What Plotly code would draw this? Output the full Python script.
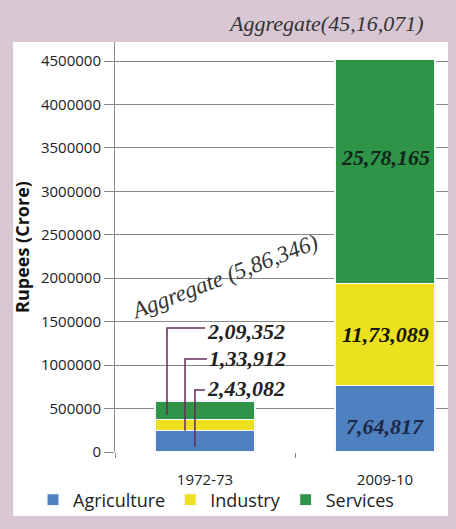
import plotly.graph_objects as go

# ---- data ----
years = ["1972-73", "2009-10"]
agriculture = [243082, 764817]
industry = [133912, 1173089]
services = [209352, 2578165]
y_ticks = [0, 500000, 1000000, 1500000, 2000000, 2500000, 3000000, 3500000, 4000000, 4500000]

sectors = ["Agriculture", "Industry", "Services"]
colors = ["#4f80bf", "#ebe11e", "#2f9447"]
text_colors = ["#1c2848", "#151505", "#10261a"]
label_shift = [-8, 0, 14]   # vertical nudge of in-bar labels (px)


def fmt_indian(n):
    s = str(int(n))
    if len(s) <= 3:
        return s
    head, tail = s[:-3], s[-3:]
    parts = []
    while len(head) > 2:
        parts.insert(0, head[-2:])
        head = head[:-2]
    if head:
        parts.insert(0, head)
    return ",".join(parts + [tail])


series = [agriculture, industry, services]
totals = [a + i + s for a, i, s in zip(agriculture, industry, services)]

SERIF = "Liberation Serif"
SANS = "Open Sans"

fig = go.Figure()
for name, vals, col in zip(sectors, series, colors):
    fig.add_trace(go.Bar(
        name=name, x=years, y=vals,
        marker=dict(color=col, line=dict(color="#f4f6fb", width=1.2)),
        width=0.555,
        hoverinfo="skip",
    ))

Y_MAX = 4718670

shapes = [
    # white panel
    dict(type="rect", xref="paper", yref="paper", x0=-0.306, x1=1.0, y0=-0.156, y1=1.0,
         fillcolor="white", line=dict(width=0), layer="below"),
]
annotations = []

# in-bar labels for the second year
base = 0
for vals, tcol, sh in zip(series, text_colors, label_shift):
    annotations.append(dict(x=years[1], y=base + vals[1] / 2, xref="x", yref="y",
                            text=fmt_indian(vals[1]), showarrow=False, yshift=sh,
                            xanchor="center", yanchor="middle",
                            font=dict(family=SERIF, size=22, color=tcol,
                                      weight="bold", style="italic")))
    base += vals[1]

# leader lines for first year labels: (label y, line y, line x, bottom y, text x)
leaders = [
    (1392600, 1427000, -0.211, 426000, 0.0, services[0]),
    (1081800, 1070300, -0.111, 245000, 0.011, industry[0]),
    (736600, 713600, -0.056, 57500, 0.0, agriculture[0]),
]
for ly, hy, vx, by, tx, val in leaders:
    shapes.append(dict(type="path", xref="x", yref="y",
                       path=f"M {tx},{hy} L {vx},{hy} L {vx},{by}",
                       line=dict(color="#6a2a5c", width=1.5)))
    annotations.append(dict(x=tx, y=ly, xref="x", yref="y", text=fmt_indian(val),
                            showarrow=False, xanchor="left", yanchor="middle",
                            font=dict(family=SERIF, size=22, color="#222222",
                                      weight="bold", style="italic")))

annotations.append(dict(x=0.11, y=2020000, xref="x", yref="y",
                        text=f"Aggregate ({fmt_indian(totals[0])})", textangle=-21,
                        showarrow=False, xanchor="center", yanchor="middle",
                        font=dict(family=SERIF, size=23, color="#333333", style="italic")))
annotations.append(dict(x=(325 - 115) / 333, y=(452 - 24) / 410, xref="paper", yref="paper",
                        text=f"Aggregate({fmt_indian(totals[1])})",
                        showarrow=False, xanchor="center", yanchor="middle",
                        font=dict(family=SERIF, size=22, color="#333333", style="italic")))

fig.update_layout(
    width=456, height=529,
    margin=dict(l=115, r=8, t=42, b=77),
    paper_bgcolor="#d9c8d3", plot_bgcolor="white",
    barmode="stack",
    font=dict(family=SANS, color="#222222"),
    showlegend=True,
    legend=dict(orientation="h", xref="paper", yref="paper",
                x=(33 - 115) / 333, y=(452 - 500) / 410, xanchor="left", yanchor="middle",
                font=dict(family=SANS, size=18, color="#222222"),
                bgcolor="rgba(0,0,0,0)", traceorder="normal"),
    xaxis=dict(type="category", range=[-0.5, 1.35], tickson="boundaries", ticks="outside",
               ticklen=5, tickcolor="#8a8a8a", showgrid=False, showline=False, zeroline=False,
               tickfont=dict(family=SANS, size=15, color="#222222"), ticklabelstandoff=17,
               automargin=False, fixedrange=True),
    yaxis=dict(range=[0, Y_MAX], tickvals=y_ticks, ticktext=[str(v) for v in y_ticks],
               ticks="outside", ticklen=10, tickcolor="#8a8a8a",
               showgrid=True, gridcolor="#8a8a8a", gridwidth=1,
               showline=True, linecolor="#8a8a8a", linewidth=1, zeroline=False,
               tickfont=dict(family=SANS, size=15, color="#222222"),
               title=dict(text="<b>Rupees (Crore)</b>", standoff=6,
                          font=dict(family=SANS, size=18, color="#111111")),
               automargin=False, fixedrange=True),
    shapes=shapes,
    annotations=annotations,
)

fig.write_html("out.html", config={"displayModeBar": False},
               post_script="document.body.style.margin='0';")
